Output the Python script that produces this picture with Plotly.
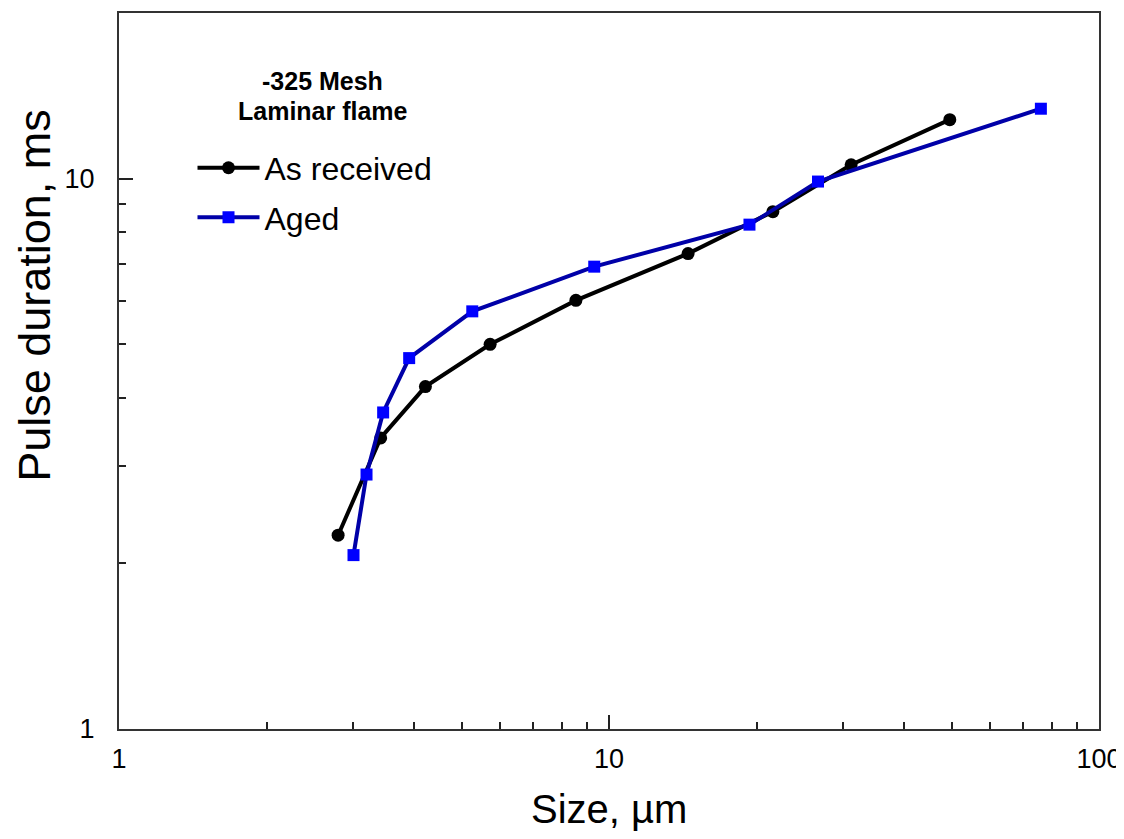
import plotly.graph_objects as go

# Data
as_received_size = [2.80, 3.42, 4.22, 5.72, 8.56, 14.5, 21.6, 31.2, 49.6]
as_received_pulse = [2.25, 3.38, 4.19, 5.00, 6.01, 7.31, 8.71, 10.6, 12.8]

aged_size = [3.01, 3.20, 3.46, 3.91, 5.26, 9.33, 19.35, 26.7, 76.1]
aged_pulse = [2.07, 2.90, 3.76, 4.72, 5.74, 6.92, 8.25, 9.88, 13.4]

x_major = [1, 10, 100]
x_major_text = ["1", "10", "100"]
x_minor = [2, 3, 4, 5, 6, 7, 8, 9, 20, 30, 40, 50, 60, 70, 80, 90]
y_major = [1, 10]
y_major_text = ["1", "10"]
y_minor = [2, 3, 4, 5, 6, 7, 8, 9]

FONT = "Liberation Sans, Arial, sans-serif"

fig = go.Figure()
fig.add_trace(go.Scatter(
    x=as_received_size, y=as_received_pulse, mode="lines+markers",
    name="As received", legendgroup="a",
    line=dict(color="#000000", width=4),
    marker=dict(symbol="circle", size=13, color="#000000"),
))
fig.add_trace(go.Scatter(
    x=aged_size, y=aged_pulse, mode="lines+markers",
    name="Aged", legendgroup="b",
    line=dict(color="#0000A8", width=4),
    marker=dict(symbol="square", size=12, color="#0000FF"),
))

axis_common = dict(
    type="log", showgrid=False, zeroline=False, automargin=False,
    showline=True, mirror=True, linecolor="#333333", linewidth=2,
    ticks="inside", ticklen=14, tickwidth=1.5, tickcolor="#222222",
    tickfont=dict(family=FONT, size=27, color="#000000"),
    ticklabeloverflow="allow",
)

fig.update_xaxes(
    **axis_common, range=[0, 2], tickmode="array",
    tickvals=x_major, ticktext=x_major_text, ticklabelstandoff=5,
    minor=dict(tickmode="array", tickvals=x_minor, ticks="inside",
               ticklen=7, tickwidth=1.5, tickcolor="#222222"),
)
fig.update_yaxes(
    **axis_common, range=[0, 1.30103], tickmode="array",
    tickvals=y_major, ticktext=y_major_text, ticklabelstandoff=17,
    minor=dict(tickmode="array", tickvals=y_minor, ticks="inside",
               ticklen=7, tickwidth=1.5, tickcolor="#222222"),
)

fig.add_annotation(
    text="Size, µm", xref="paper", yref="paper", x=0.5, y=-0.112,
    showarrow=False, font=dict(family=FONT, size=40, color="#000000"),
    xanchor="center", yanchor="middle",
)
fig.add_annotation(
    text="Pulse duration, ms", xref="paper", yref="paper", x=-0.0857, y=0.605,
    textangle=-90, showarrow=False,
    font=dict(family=FONT, size=45, color="#000000"),
    xanchor="center", yanchor="middle",
)
fig.add_annotation(
    text="<b>-325 Mesh</b>", xref="paper", yref="paper",
    x=0.208, y=(716 - 68) / 716, showarrow=False,
    font=dict(family=FONT, size=25, color="#000000"),
    xanchor="center", yanchor="middle",
)
fig.add_annotation(
    text="<b>Laminar flame</b>", xref="paper", yref="paper",
    x=0.208, y=(716 - 98) / 716, showarrow=False,
    font=dict(family=FONT, size=25, color="#000000"),
    xanchor="center", yanchor="middle",
)

fig.update_layout(
    width=1116, height=823,
    margin=dict(l=111, r=25, t=5, b=102),
    paper_bgcolor="white", plot_bgcolor="white",
    showlegend=True,
    legend=dict(
        x=0.075, y=0.822, xanchor="left", yanchor="top",
        bgcolor="rgba(0,0,0,0)", borderwidth=0,
        font=dict(family=FONT, size=32, color="#000000"),
        itemwidth=62, tracegroupgap=5, traceorder="grouped",
    ),
)

fig.write_html("out.html")
